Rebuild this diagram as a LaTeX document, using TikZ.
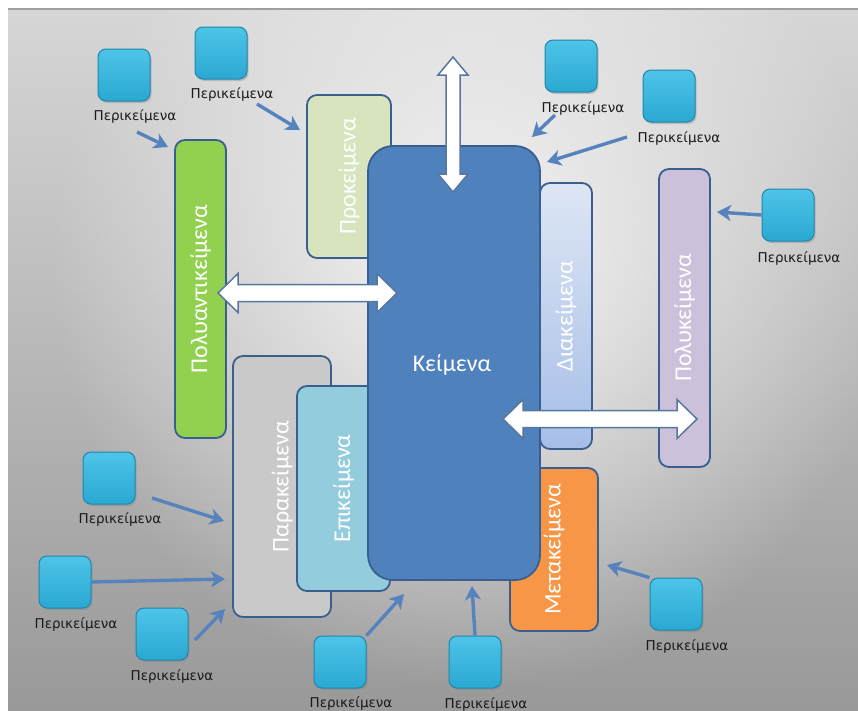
\documentclass[tikz,border=0pt]{standalone}
\usepackage{fontspec}
\setmainfont{Carlito}
\newfontfamily\lblfont{DejaVu Sans}
\usetikzlibrary{positioning,arrows.meta,shadows,fadings}

\definecolor{kblue}{HTML}{4F81BD}
\definecolor{kedge}{HTML}{3A5F8E}
\definecolor{kgreen}{HTML}{92D050}
\definecolor{kolive}{HTML}{D7E4BD}
\definecolor{kgray}{HTML}{C9C9C9}
\definecolor{kaqua}{HTML}{93CDDD}
\definecolor{klav}{HTML}{CCC1DA}
\definecolor{korange}{HTML}{F79646}
\definecolor{kdiatop}{HTML}{DDE6F4}
\definecolor{kdiabot}{HTML}{A6BEE8}
\definecolor{kcyantop}{HTML}{4EC4E8}
\definecolor{kcyanbot}{HTML}{2AA8D2}
\definecolor{kcyanedge}{HTML}{1E87AA}
\definecolor{kfeed}{HTML}{5683BE}

\tikzfading[name=glow, inner color=transparent!15, outer color=transparent!100]

\tikzset{
  box/.style={draw=kedge, line width=1.8pt, rounded corners=10pt, inner sep=0pt,
    text=white, font=\fontsize{24}{28}\selectfont},
  vbox/.style={box, rotate=90},
  ctx/.style={draw=kcyanedge, line width=1pt, rounded corners=8pt,
    top color=kcyantop, bottom color=kcyanbot,
    minimum width=52pt, minimum height=52pt,
    drop shadow={opacity=0.35, shadow xshift=1.5pt, shadow yshift=-2pt}},
  lbl/.style={font=\lblfont\fontsize{13.5}{15}\selectfont, text=black!90, inner sep=1pt},
  feed/.style={kfeed, line width=3.4pt, -{Stealth[length=14pt,width=16pt,inset=4pt]}},
  bigarrow/.style={fill=white, draw=kedge!85, line width=1.5pt, line join=miter}
}

\begin{document}
\begin{tikzpicture}[x=1pt,y=-1pt]
  % background
  \useasboundingbox (0,0) rectangle (858,710);
  \fill[white] (0,0) rectangle (858,710);
  \shade[top color=gray!32, bottom color=gray!80] (8,9) rectangle (858,710);
  \fill[white, path fading=glow] (470,270) circle (420);
  \draw[gray!75, line width=1.2pt] (8,9) -- (858,9);

  % boxes behind the text block
  \node[vbox, fill=kolive, minimum width=163pt, minimum height=84pt] (proc) at (349,176.5) {Προκείμενα};
  \node[vbox, top color=kdiatop, bottom color=kdiabot, minimum width=266pt, minimum height=52pt] (dia) at (566,316) {Διακείμενα};
  \node[vbox, fill=korange, minimum width=163pt, minimum height=88pt] (meta) at (554,549.5) {Μετακείμενα};
  \node[vbox, fill=kgray, minimum width=261pt, minimum height=98pt] (para) at (282,486.5) {Παρακείμενα};
  \node[vbox, fill=kaqua, minimum width=205pt, minimum height=93pt] (epi) at (343.5,488.5) {Επικείμενα};
  % the text block
  \node[box, fill=kblue, rounded corners=25pt, minimum width=172pt, minimum height=434pt] (main) at (454,363) {};
  \node[text=white, font=\fontsize{24}{28}\selectfont] (kei) at (452,365) {Κείμενα};
  \node[vbox, fill=kgreen, minimum width=298pt, minimum height=51pt] (polyant) at (200.5,289) {Πολυαντικείμενα};
  \node[vbox, fill=klav, minimum width=298pt, minimum height=51pt] (polyk) at (684.5,318) {Πολυκείμενα};

  % white double arrows
  \draw[bigarrow] (453,57) -- (468,75) -- (460,75) -- (460,174) -- (468,174) -- (453,192)
    -- (438,174) -- (446,174) -- (446,75) -- (438,75) -- cycle;
  \draw[bigarrow] (218,293) -- (238,273.5) -- (238,284.5) -- (377,284.5) -- (377,273.5) -- (397,293)
    -- (377,312.5) -- (377,301.5) -- (238,301.5) -- (238,312.5) -- cycle;
  \draw[bigarrow] (503,419) -- (523,399.5) -- (523,410.5) -- (677,410.5) -- (677,399.5) -- (697,419)
    -- (677,438.5) -- (677,427.5) -- (523,427.5) -- (523,438.5) -- cycle;

  % contexts
  \node[ctx] (c1) at (124,75) {};
  \node[ctx] (c2) at (221,53) {};
  \node[ctx] (c3) at (571,66) {};
  \node[ctx] (c4) at (669,96) {};
  \node[ctx] (c5) at (788,215) {};
  \node[ctx] (c6) at (109,478) {};
  \node[ctx] (c7) at (65,582) {};
  \node[ctx] (c8) at (162,634) {};
  \node[ctx] (c9) at (340,662) {};
  \node[ctx] (c10) at (475,662) {};
  \node[ctx] (c11) at (676,604) {};
  \node[lbl] (l1) at (135,117) {Περικείμενα};
  \node[lbl] (l2) at (232,95) {Περικείμενα};
  \node[lbl] (l3) at (583,109) {Περικείμενα};
  \node[lbl] (l4) at (679,138) {Περικείμενα};
  \node[lbl] (l5) at (799,258) {Περικείμενα};
  \node[lbl] (l6) at (120,519) {Περικείμενα};
  \node[lbl] (l7) at (76,624) {Περικείμενα};
  \node[lbl] (l8) at (172,676) {Περικείμενα};
  \node[lbl] (l9) at (351,703) {Περικείμενα};
  \node[lbl] (l10) at (486,704) {Περικείμενα};
  \node[lbl] (l11) at (687,646) {Περικείμενα};

  % arrows towards the blocks
  \coordinate (t1) at (137,132);  \coordinate (h1) at (168,147);
  \coordinate (t2) at (257,104);  \coordinate (h2) at (300,130);
  \coordinate (t3) at (555,115);  \coordinate (h3) at (532,137);
  \coordinate (t4) at (627,137);  \coordinate (h4) at (547,162);
  \coordinate (h5) at (717,212);
  \coordinate (t6) at (152,498);  \coordinate (h6) at (224,521);
  \coordinate (h7) at (225,579);
  \coordinate (t8) at (195,640);  \coordinate (h8) at (225,609);
  \coordinate (h9) at (404,594);
  \coordinate (h10) at (472,586);
  \coordinate (h11) at (607,565);
  \draw[feed] (t1) -- (h1);
  \draw[feed] (t2) -- (h2);
  \draw[feed] (t3) -- (h3);
  \draw[feed] (t4) -- (h4);
  \draw[feed] (c5.west) -- (h5);
  \draw[feed] (t6) -- (h6);
  \draw[feed] (c7.east) -- (h7);
  \draw[feed] (t8) -- (h8);
  \draw[feed] (c9.north east) -- (h9);
  \draw[feed] (c10.north) -- (h10);
  \draw[feed] (c11.north west) -- (h11);
\end{tikzpicture}
\end{document}
